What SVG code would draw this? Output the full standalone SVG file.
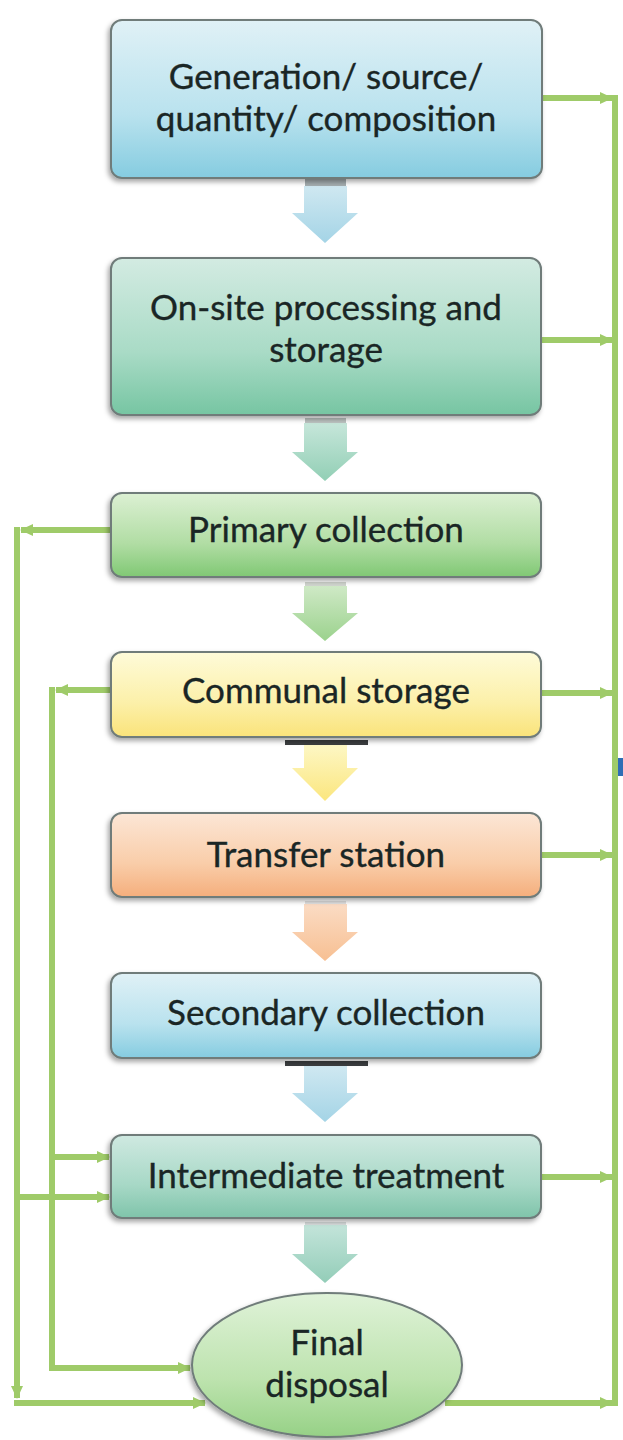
<svg xmlns="http://www.w3.org/2000/svg" width="623" height="1440" viewBox="0 0 623 1440">
<defs>
<style>
.box{stroke:#6f7c7a;stroke-width:2;filter:url(#sh)}
.lbl{font-family:Lato,"Open Sans","Liberation Sans",sans-serif;font-size:35px;fill:#1a2625;stroke:#1a2625;stroke-width:0.35;text-anchor:middle}
.con{fill:none;stroke:#9fcb69;stroke-width:6}
.bar{opacity:0.8}
</style>
<filter id="sh" x="-10%" y="-10%" width="120%" height="130%">
<feDropShadow dx="-2" dy="3" stdDeviation="2.5" flood-color="#000" flood-opacity="0.35"/>
</filter>
<marker id="ah" markerWidth="14" markerHeight="14" refX="12" refY="7" orient="auto" markerUnits="userSpaceOnUse">
<path d="M0,1 L13,7 L0,13 Z" fill="#9fcb69"/>
</marker>
<linearGradient id="gBlue" x1="0" y1="0" x2="0" y2="1"><stop offset="0" stop-color="#e0f1f6"/><stop offset="0.6" stop-color="#b9e2ee"/><stop offset="1" stop-color="#85cce0"/></linearGradient>
<linearGradient id="gMint" x1="0" y1="0" x2="0" y2="1"><stop offset="0" stop-color="#d3ebe2"/><stop offset="0.6" stop-color="#a9dbc6"/><stop offset="1" stop-color="#76c5a2"/></linearGradient>
<linearGradient id="gGreen" x1="0" y1="0" x2="0" y2="1"><stop offset="0" stop-color="#dcf0d3"/><stop offset="0.6" stop-color="#b1dda4"/><stop offset="1" stop-color="#80c874"/></linearGradient>
<linearGradient id="gYellow" x1="0" y1="0" x2="0" y2="1"><stop offset="0" stop-color="#fefbd9"/><stop offset="0.6" stop-color="#fcf0a9"/><stop offset="1" stop-color="#fae37a"/></linearGradient>
<linearGradient id="gOrange" x1="0" y1="0" x2="0" y2="1"><stop offset="0" stop-color="#fce6d6"/><stop offset="0.6" stop-color="#f9cda9"/><stop offset="1" stop-color="#f5ae7c"/></linearGradient>
<linearGradient id="gTeal" x1="0" y1="0" x2="0" y2="1"><stop offset="0" stop-color="#cfe9e1"/><stop offset="0.6" stop-color="#a7d8c6"/><stop offset="1" stop-color="#7fc4aa"/></linearGradient>
<linearGradient id="gEll" x1="0" y1="0" x2="0" y2="1"><stop offset="0" stop-color="#dff2d8"/><stop offset="0.6" stop-color="#bde3ae"/><stop offset="1" stop-color="#96d186"/></linearGradient>
<linearGradient id="aBlue" x1="0" y1="0" x2="0" y2="1"><stop offset="0" stop-color="#cfe8f1"/><stop offset="1" stop-color="#a4d4e6"/></linearGradient>
<linearGradient id="aMint" x1="0" y1="0" x2="0" y2="1"><stop offset="0" stop-color="#c6e6da"/><stop offset="1" stop-color="#92cfb5"/></linearGradient>
<linearGradient id="aGreen" x1="0" y1="0" x2="0" y2="1"><stop offset="0" stop-color="#cfe9c6"/><stop offset="1" stop-color="#9bd28d"/></linearGradient>
<linearGradient id="aYellow" x1="0" y1="0" x2="0" y2="1"><stop offset="0" stop-color="#fdf7c4"/><stop offset="1" stop-color="#fbe67e"/></linearGradient>
<linearGradient id="aOrange" x1="0" y1="0" x2="0" y2="1"><stop offset="0" stop-color="#fbdcc4"/><stop offset="1" stop-color="#f7bf92"/></linearGradient>
<linearGradient id="aTeal" x1="0" y1="0" x2="0" y2="1"><stop offset="0" stop-color="#c3e4da"/><stop offset="1" stop-color="#93cdb8"/></linearGradient>
</defs>
<rect width="623" height="1440" fill="#ffffff"/>

<g id="flow-arrows">
<rect class="bar" x="305" y="179" width="41" height="7" fill="#8e9a9c"/>
<path d="M304 186 H347 V213 H358 L325 243 L292 213 H304 Z" fill="url(#aBlue)"/>
<rect class="bar" x="305" y="418" width="41" height="5" fill="#aab3b0"/>
<path d="M304 423 H347 V452 H358 L325 481 L292 452 H304 Z" fill="url(#aMint)"/>
<rect class="bar" x="305" y="582" width="41" height="4" fill="#c4cbc2"/>
<path d="M304 586 H347 V613 H358 L325 641 L292 613 H304 Z" fill="url(#aGreen)"/>
<rect x="285" y="740" width="83" height="5" fill="#3b3d3f"/>
<path d="M304 745 H347 V768 H358 L325 801 L292 768 H304 Z" fill="url(#aYellow)"/>
<rect class="bar" x="305" y="901" width="41" height="3" fill="#d9d9d9"/>
<path d="M304 904 H347 V932 H358 L325 961 L292 932 H304 Z" fill="url(#aOrange)"/>
<rect x="285" y="1061" width="83" height="5" fill="#3b3d3f"/>
<path d="M304 1066 H347 V1093 H358 L325 1122 L292 1093 H304 Z" fill="url(#aBlue)"/>
<rect class="bar" x="305" y="1222" width="41" height="3" fill="#cfd6d6"/>
<path d="M304 1225 H347 V1254 H358 L325 1283 L292 1254 H304 Z" fill="url(#aTeal)"/>
</g>

<g id="connectors">
<line class="con" x1="615" y1="95" x2="615" y2="1406"/>
<line class="con" x1="542" y1="98" x2="612" y2="98" marker-end="url(#ah)"/>
<line class="con" x1="541" y1="340" x2="612" y2="340" marker-end="url(#ah)"/>
<line class="con" x1="541" y1="693" x2="612" y2="693" marker-end="url(#ah)"/>
<line class="con" x1="541" y1="855" x2="612" y2="855" marker-end="url(#ah)"/>
<line class="con" x1="541" y1="1177" x2="612" y2="1177" marker-end="url(#ah)"/>
<line class="con" x1="445" y1="1403" x2="612" y2="1403" marker-end="url(#ah)"/>
<line class="con" x1="110" y1="530" x2="21" y2="530" marker-end="url(#ah)"/>
<line class="con" x1="17" y1="527" x2="17" y2="1398" marker-end="url(#ah)"/>
<line class="con" x1="14" y1="1403" x2="205" y2="1403" marker-end="url(#ah)"/>
<line class="con" x1="110" y1="690" x2="56" y2="690" marker-end="url(#ah)"/>
<line class="con" x1="52" y1="687" x2="52" y2="1371"/>
<line class="con" x1="49" y1="1368" x2="190" y2="1368" marker-end="url(#ah)"/>
<line class="con" x1="52" y1="1157" x2="109" y2="1157" marker-end="url(#ah)"/>
<line class="con" x1="17" y1="1197" x2="109" y2="1197" marker-end="url(#ah)"/>
</g>

<rect x="618" y="758" width="5" height="18" fill="#2f6eb5"/>

<g id="n-generation">
<rect class="box" x="111" y="20" width="431" height="158" rx="11" fill="url(#gBlue)"/>
<text class="lbl" x="326" y="89">Generation/ source/</text>
<text class="lbl" x="326" y="131">quantity/ composition</text>
</g>
<g id="n-onsite">
<rect class="box" x="111" y="258" width="430" height="157" rx="11" fill="url(#gMint)"/>
<text class="lbl" x="326" y="320">On-site processing and</text>
<text class="lbl" x="326" y="362">storage</text>
</g>
<g id="n-primary">
<rect class="box" x="111" y="493" width="430" height="84" rx="11" fill="url(#gGreen)"/>
<text class="lbl" x="326" y="542">Primary collection</text>
</g>
<g id="n-communal">
<rect class="box" x="111" y="652" width="430" height="85" rx="11" fill="url(#gYellow)"/>
<text class="lbl" x="326" y="703">Communal storage</text>
</g>
<g id="n-transfer">
<rect class="box" x="111" y="813" width="430" height="84" rx="11" fill="url(#gOrange)"/>
<text class="lbl" x="326" y="867">Transfer station</text>
</g>
<g id="n-secondary">
<rect class="box" x="111" y="973" width="430" height="85" rx="11" fill="url(#gBlue)"/>
<text class="lbl" x="326" y="1025">Secondary collection</text>
</g>
<g id="n-intermediate">
<rect class="box" x="111" y="1135" width="430" height="83" rx="11" fill="url(#gTeal)"/>
<text class="lbl" x="326" y="1188">Intermediate treatment</text>
</g>
<g id="n-final">
<ellipse class="box" cx="327" cy="1365" rx="135" ry="72" fill="url(#gEll)"/>
<text class="lbl" x="327" y="1355">Final</text>
<text class="lbl" x="327" y="1397">disposal</text>
</g>
</svg>
